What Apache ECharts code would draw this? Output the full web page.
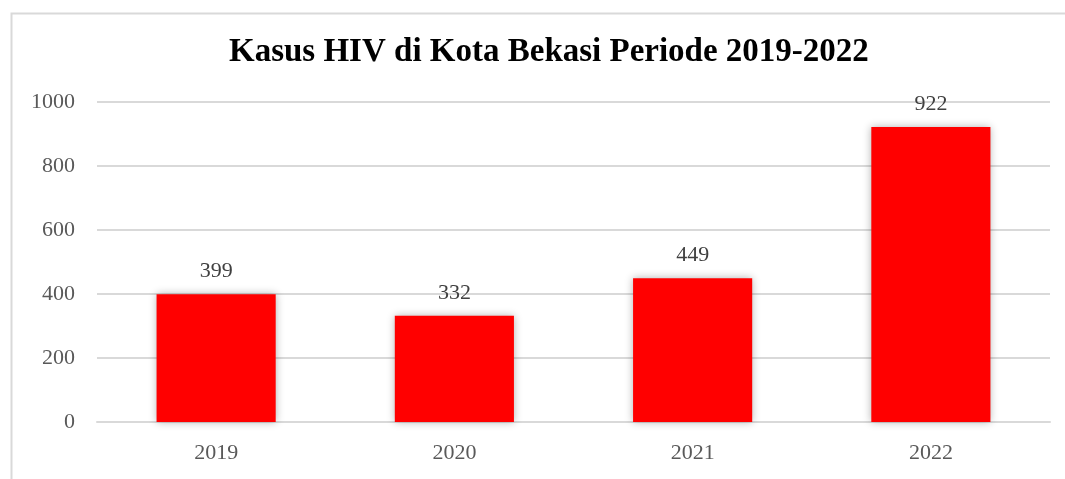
<!DOCTYPE html>
<html><head><meta charset="utf-8">
<script src="https://cdn.jsdelivr.net/npm/echarts@6/dist/echarts.min.js"></script>
<style>html,body{margin:0;padding:0;background:#fff}#c{width:1065px;height:479px}</style>
</head><body><div id="c"></div>
<script>
const categories = ["2019", "2020", "2021", "2022"];
const cases = [399, 332, 449, 922];
const yTicks = [0, 200, 400, 600, 800, 1000];
const titleText = "Kasus HIV di Kota Bekasi Periode 2019-2022";

const chart = echarts.init(document.getElementById('c'));
const serif = '"Liberation Serif", "DejaVu Serif", serif';
chart.setOption({
  animation: false,
  backgroundColor: '#fff',
  graphic: [{
    type: 'rect', left: 9, top: 11,
    shape: { width: 1200, height: 600 },
    style: { fill: 'none', stroke: '#d9d9d9', lineWidth: 2 }
  }],
  title: {
    text: titleText, left: 224, top: 31,
    textStyle: { fontFamily: serif, fontWeight: 'bold', fontSize: 33, color: '#000' }
  },
  grid: { left: 97, right: 15, top: 102, bottom: 57 },
  xAxis: {
    type: 'category', data: categories,
    axisLine: { lineStyle: { color: '#d9d9d9', width: 2 } },
    axisTick: { show: false },
    axisLabel: { fontFamily: serif, fontSize: 22, color: '#595959', margin: 20 }
  },
  yAxis: {
    type: 'value', min: yTicks[0], max: yTicks[yTicks.length - 1], interval: 200,
    axisLine: { show: false }, axisTick: { show: false },
    splitLine: { lineStyle: { color: '#d9d9d9', width: 2 } },
    axisLabel: { fontFamily: serif, fontSize: 22, color: '#595959', margin: 22, formatter: v => String(v) }
  },
  series: [{
    type: 'bar', data: cases, barWidth: '50%',
    itemStyle: { color: '#ff0000', shadowColor: 'rgba(0,0,0,0.3)', shadowBlur: 8 },
    label: { show: true, position: 'top', distance: 12, fontFamily: serif, fontSize: 22, color: '#404040' }
  }]
});
</script></body></html>
